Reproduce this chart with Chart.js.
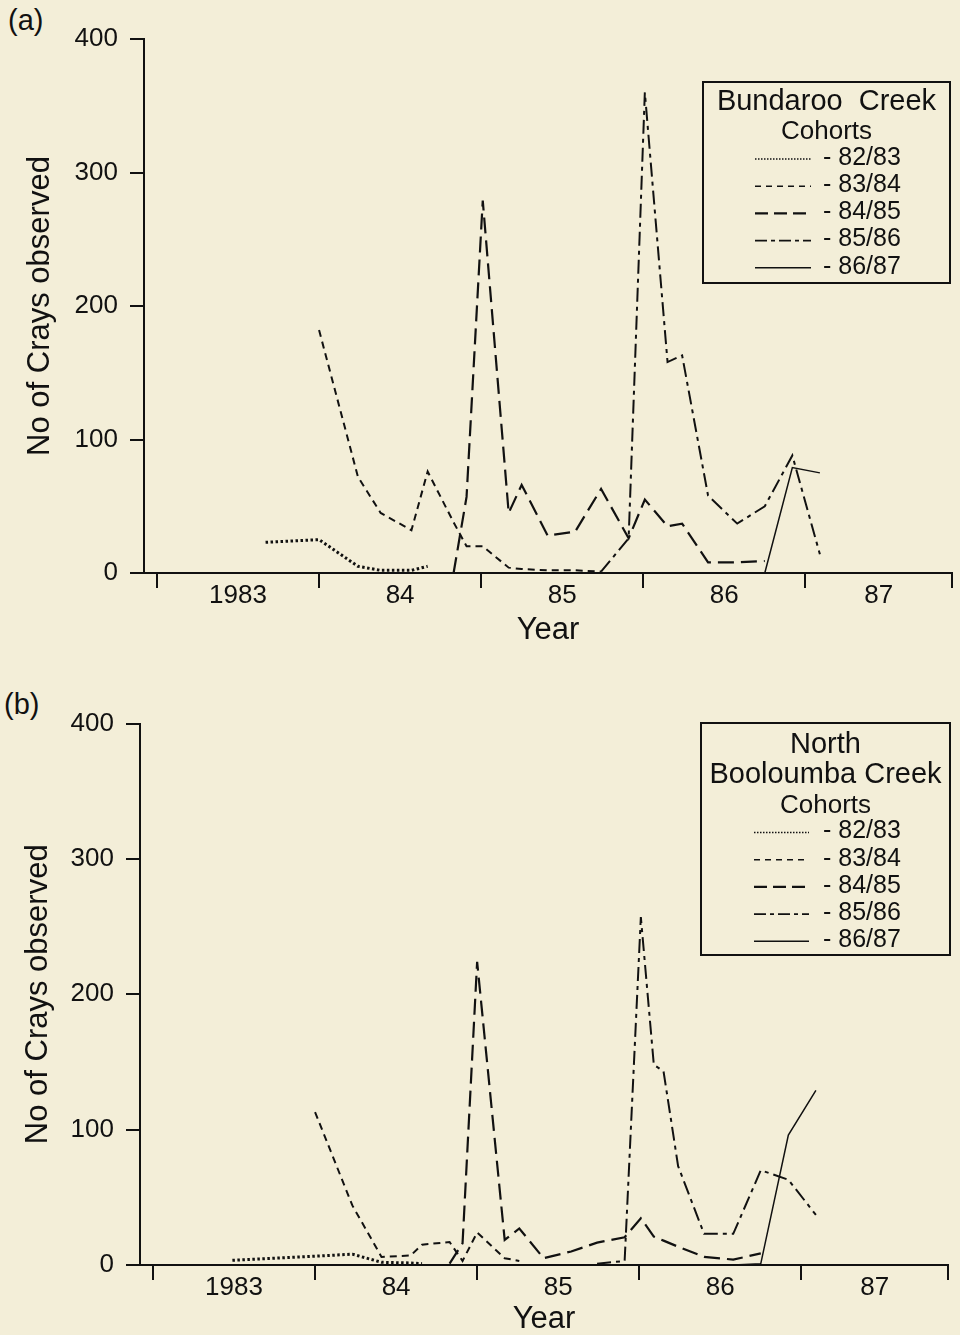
<!DOCTYPE html>
<html>
<head>
<meta charset="utf-8">
<title>Crays observed by cohort</title>
<script src="https://cdn.jsdelivr.net/npm/chart.js@4.4.1/dist/chart.umd.min.js"></script>
<style>
  html, body { margin: 0; padding: 0; background: #f3eed8; }
  body { width: 960px; height: 1335px; position: relative; overflow: hidden;
         font-family: "Liberation Sans", Arial, sans-serif; color: #111; }
  .panel { position: absolute; left: 0; width: 960px; }
  .tag { position: absolute; font-size: 29px; line-height: 29px; }
</style>
</head>
<body>
<div class="tag" style="left:8px; top:6px;">(a)</div>
<div class="panel" style="top:0; height:668px;"><canvas id="chartA"></canvas></div>
<div class="tag" style="left:4px; top:690px;">(b)</div>
<div class="panel" style="top:668px; height:667px;"><canvas id="chartB"></canvas></div>
<script>
// cohorts and axis labels
const cohorts = ['82/83', '83/84', '84/85', '85/86', '86/87'];
const yearTicks = [1983, 1984, 1985, 1986, 1987];
const yearLabels = ['1983', '84', '85', '86', '87'];
const yTicks = [0, 100, 200, 300, 400];
const X_MIN = 1982.92, X_MAX = 1987.905;

// (a) Bundaroo Creek - sampling dates (decimal years) and counts per cohort
const datesA = [1983.67, 1984.00, 1984.24, 1984.38, 1984.57, 1984.67, 1984.83, 1984.91,
                1985.01, 1985.17, 1985.25, 1985.41, 1985.58, 1985.74, 1985.91, 1986.01,
                1986.15, 1986.24, 1986.40, 1986.58, 1986.75, 1986.92, 1987.09];
const N = null;
const a8283 = [23, 25, 5, 2, 2, 5, N, N, N, N, N, N, N, N, N, N, N, N, N, N, N, N, N];
const a8384 = [N, 182, 72, 45, 32, 76, 38, 20, 20, 4, 3, 2, 2, 1, N, N, N, N, N, N, N, N, N];
const a8485 = [N, N, N, N, N, N, 0, 57, 279, 45, 66, 28, 31, 63, 26, 55, 35, 37, 8, 8, 9, N, N];
const a8586 = [N, N, N, N, N, N, N, N, N, N, N, N, N, 1, 26, 360, 158, 163, 58, 37, 50, 88, 14];
const a8687 = [N, N, N, N, N, N, N, N, N, N, N, N, N, N, N, N, N, N, N, 0, 0, 79, 75];

// (b) North Booloumba Creek
const datesB = [1983.49, 1984.00, 1984.23, 1984.41, 1984.59, 1984.66, 1984.83, 1984.91,
                1985.00, 1985.17, 1985.26, 1985.41, 1985.58, 1985.74, 1985.91, 1986.01,
                1986.09, 1986.15, 1986.24, 1986.40, 1986.58, 1986.75, 1986.92, 1987.09];
const b8283 = [3.5, 6.5, 8, 2, 1.5, 1, N, N, N, N, N, N, N, N, N, N, N, N, N, N, N, N, N, N];
const b8384 = [N, 113, 44, 6, 7, 15, 17, 3, 24, 5, 3, N, N, N, N, N, N, N, N, N, N, N, N, N];
const b8485 = [N, N, N, N, N, N, 1, 16, 224, 18.5, 27, 5, 10, 16.5, 20.5, 34.5, 21, 18, 13.5, 6, 4, 8.6, N, N];
const b8586 = [N, N, N, N, N, N, N, N, N, N, N, N, N, 1, 3, 257, 148, 143, 73, 23, 23, 70, 63, 37];
const b8687 = [N, N, N, N, N, N, N, N, N, N, N, N, N, N, N, N, N, N, N, N, 0, 1, 96, 129];

// line styles per cohort
const dashStyles = [[2.5, 2.5], [7, 5], [16, 7], [14, 5, 4, 5], []];
const lineWidths = [3, 2, 2.2, 2, 1.5];
const legendDash = [[1.5, 1.5], [6, 5], [13, 6], [12, 4, 4, 4], []];
const legendWidths = [1.5, 1.6, 2.4, 1.6, 1.4];

const FONT = '"Liberation Sans", Arial, sans-serif';
Chart.defaults.font.family = FONT;
Chart.defaults.color = '#111';

function labelAt(v) {
  for (let i = 0; i < yearTicks.length; i++) {
    const next = i < yearTicks.length - 1 ? yearTicks[i + 1] : X_MAX;
    if (Math.abs((yearTicks[i] + next) / 2 - v) < 1e-6) return yearLabels[i];
  }
  return '';
}

function makeDatasets(dates, series) {
  return series.map((vals, i) => ({
    label: cohorts[i],
    data: dates.map((d, j) => ({ x: d, y: vals[j] })).filter(p => p.y !== null),
    borderColor: '#111',
    borderWidth: lineWidths[i],
    borderDash: dashStyles[i],
    pointRadius: 0,
    tension: 0,
    fill: false,
    clip: 4
  }));
}

// boxed legend with the creek name on top
const cohortLegend = {
  id: 'cohortLegend',
  afterDraw(chart, args, o) {
    const ctx = chart.ctx;
    const [x1, y1, x2, y2] = o.box;
    const cx = (x1 + x2) / 2;
    ctx.save();
    ctx.strokeStyle = '#111';
    ctx.lineWidth = 2;
    ctx.strokeRect(x1, y1, x2 - x1, y2 - y1);
    ctx.fillStyle = '#111';
    ctx.textAlign = 'center';
    ctx.textBaseline = 'middle';
    o.title.forEach((t, i) => {
      ctx.font = o.titleSize[i] + 'px ' + FONT;
      ctx.fillText(t, cx, o.titleY[i]);
    });
    chart.data.datasets.forEach((ds, i) => {
      const y = o.rowY + i * o.rowGap;
      ctx.setLineDash(legendDash[i]);
      ctx.lineWidth = legendWidths[i];
      ctx.beginPath();
      ctx.moveTo(o.lineX[0], y + 1);
      ctx.lineTo(o.lineX[1], y + 1);
      ctx.stroke();
      ctx.setLineDash([]);
      ctx.textAlign = 'left';
      ctx.font = '25px ' + FONT;
      ctx.fillText('- ' + ds.label, o.textX, y);
    });
    ctx.restore();
  }
};

function makeChart(id, dates, series, lay) {
  return new Chart(document.getElementById(id), {
    type: 'line',
    data: { datasets: makeDatasets(dates, series) },
    plugins: [cohortLegend],
    options: {
      responsive: true,
      maintainAspectRatio: false,
      animation: false,
      layout: { padding: { top: lay.top, right: lay.right, left: 0, bottom: 0 } },
      plugins: {
        legend: { display: false },
        tooltip: { enabled: false },
        cohortLegend: lay.legend
      },
      scales: {
        x: {
          type: 'linear',
          min: X_MIN,
          max: X_MAX,
          afterBuildTicks(scale) {
            const t = [];
            yearTicks.forEach((y, i) => {
              const next = i < yearTicks.length - 1 ? yearTicks[i + 1] : X_MAX;
              t.push({ value: y });
              t.push({ value: (y + next) / 2 });
            });
            t.push({ value: X_MAX });
            scale.ticks = t;
          },
          afterFit(scale) { scale.height = lay.xHeight; },
          ticks: {
            autoSkip: false, maxRotation: 0, padding: -6, color: '#111',
            font: { size: 26, lineHeight: 1.1 },
            callback: v => labelAt(v)
          },
          grid: {
            drawOnChartArea: false, drawTicks: true, tickLength: 15, lineWidth: 2,
            color: c => (c.tick && labelAt(c.tick.value)) ? 'rgba(0,0,0,0)' : '#111',
            tickColor: c => (c.tick && labelAt(c.tick.value)) ? 'rgba(0,0,0,0)' : '#111'
          },
          border: { display: true, color: '#111', width: 2 },
          title: {
            display: true, text: 'Year', color: '#111',
            font: { size: 31, lineHeight: 1.0 }, padding: { top: 0, bottom: lay.xTitlePad }
          }
        },
        y: {
          min: 0,
          max: 400,
          afterBuildTicks(scale) { scale.ticks = yTicks.map(v => ({ value: v })); },
          afterFit(scale) { scale.width = lay.yWidth; },
          ticks: { padding: 12, color: '#111', font: { size: 26 } },
          grid: { drawOnChartArea: false, tickLength: 14, lineWidth: 2, color: '#111' },
          border: { display: true, color: '#111', width: 2 },
          title: {
            display: true, text: 'No of Crays observed', color: '#111',
            font: { size: 31, lineHeight: 1.0 }, padding: { top: lay.yTitlePad, bottom: 0 }
          }
        }
      }
    }
  });
}

makeChart('chartA', datesA, [a8283, a8384, a8485, a8586, a8687], {
  top: 39, right: 8, xHeight: 95, yWidth: 144, xTitlePad: 22, yTitlePad: 25,
  legend: {
    box: [703, 82, 950, 283],
    title: ['Bundaroo  Creek', 'Cohorts'],
    titleSize: [29, 26],
    titleY: [102, 132],
    rowY: 158, rowGap: 27.2,
    lineX: [755, 811], textX: 823
  }
});

makeChart('chartB', datesB, [b8283, b8384, b8485, b8586, b8687], {
  top: 55.5, right: 12, xHeight: 70, yWidth: 140, xTitlePad: 0, yTitlePad: 23,
  legend: {
    box: [701, 55, 950, 287],
    title: ['North', 'Booloumba Creek', 'Cohorts'],
    titleSize: [29, 29, 26],
    titleY: [77, 107, 138],
    rowY: 163.5, rowGap: 27.2,
    lineX: [754, 809], textX: 823
  }
});
</script>
</body>
</html>
